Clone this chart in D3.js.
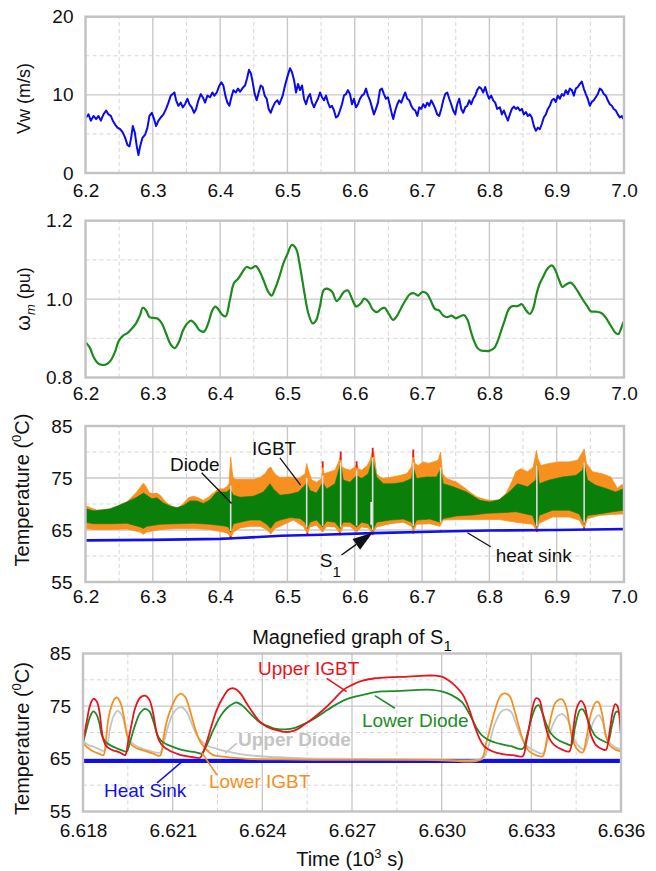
<!DOCTYPE html>
<html><head><meta charset="utf-8">
<script src="https://cdn.jsdelivr.net/npm/d3@7"></script>
<style>body{margin:0;background:#fff}</style>
</head><body>
<script>
// ---------------- DATA ----------------
// Panel 1: wind speed Vw (m/s) vs time (10^3 s)
const windSpeed = [
[6.2010,7.1],[6.2045,7.5],[6.2079,6.7],[6.2119,7.3],[6.2158,6.9],[6.2193,7.3],[6.2228,6.7],[6.2267,7.5],[6.2307,8.0],[6.2341,7.5],
[6.2376,7.3],[6.2406,6.7],[6.2440,6.2],[6.2475,5.8],[6.2515,5.6],[6.2554,5.2],[6.2589,4.5],[6.2623,3.6],[6.2653,3.4],[6.2678,4.5],
[6.2703,6.0],[6.2732,5.2],[6.2762,3.4],[6.2787,2.3],[6.2811,3.4],[6.2846,4.5],[6.2886,4.9],[6.2920,5.8],[6.2950,7.3],[6.2985,7.7],
[6.3019,6.9],[6.3049,6.0],[6.3084,6.7],[6.3118,7.1],[6.3158,7.5],[6.3197,8.2],[6.3232,9.0],[6.3267,9.9],[6.3296,10.1],[6.3321,10.3],
[6.3346,9.3],[6.3380,8.6],[6.3415,9.0],[6.3445,8.4],[6.3479,8.8],[6.3514,9.5],[6.3544,8.8],[6.3578,8.4],[6.3613,7.7],[6.3643,8.2],
[6.3677,9.3],[6.3712,10.1],[6.3742,9.7],[6.3776,9.0],[6.3811,9.9],[6.3851,9.7],[6.3885,10.3],[6.3915,9.9],[6.3950,10.3],[6.3989,11.2],
[6.4019,11.6],[6.4048,11.2],[6.4078,9.9],[6.4108,9.0],[6.4138,8.6],[6.4167,9.7],[6.4197,10.6],[6.4232,10.3],[6.4266,10.8],[6.4296,10.4],
[6.4336,10.9],[6.4370,11.2],[6.4400,12.1],[6.4429,13.2],[6.4459,12.7],[6.4484,11.6],[6.4514,10.1],[6.4543,9.3],[6.4573,10.3],[6.4603,11.2],
[6.4632,11.0],[6.4662,9.9],[6.4692,9.5],[6.4721,8.2],[6.4751,7.7],[6.4781,8.4],[6.4815,9.0],[6.4850,9.3],[6.4880,8.8],[6.4930,9.9],
[6.4964,11.2],[6.4999,12.3],[6.5038,13.4],[6.5068,12.9],[6.5098,11.9],[6.5128,10.3],[6.5157,11.4],[6.5187,10.6],[6.5217,11.2],[6.5246,9.5],
[6.5276,8.8],[6.5306,9.7],[6.5335,10.1],[6.5365,9.0],[6.5395,8.4],[6.5424,9.0],[6.5454,9.5],[6.5484,10.3],[6.5513,9.7],[6.5543,9.3],
[6.5573,9.9],[6.5603,9.0],[6.5632,8.4],[6.5662,8.6],[6.5692,8.0],[6.5721,7.1],[6.5751,7.3],[6.5781,8.0],[6.5810,8.8],[6.5840,9.9],
[6.5870,10.1],[6.5899,10.6],[6.5929,10.1],[6.5959,8.8],[6.5988,9.5],[6.6018,8.4],[6.6048,8.8],[6.6078,9.5],[6.6107,9.9],[6.6137,10.1],
[6.6167,10.8],[6.6196,9.9],[6.6226,9.3],[6.6256,8.4],[6.6285,7.5],[6.6315,8.2],[6.6345,9.0],[6.6374,10.6],[6.6404,10.8],[6.6434,10.1],
[6.6463,9.5],[6.6493,9.7],[6.6523,8.6],[6.6553,7.5],[6.6572,6.9],[6.6602,8.0],[6.6632,8.8],[6.6661,9.3],[6.6691,9.0],[6.6721,9.7],
[6.6750,10.3],[6.6780,9.5],[6.6810,9.3],[6.6840,8.6],[6.6869,8.2],[6.6899,8.0],[6.6929,7.3],[6.6958,8.4],[6.6988,8.2],[6.7018,8.8],
[6.7047,8.4],[6.7077,9.0],[6.7107,8.6],[6.7136,9.3],[6.7166,8.8],[6.7196,8.2],[6.7225,7.5],[6.7255,7.3],[6.7285,8.2],[6.7315,9.3],
[6.7344,10.1],[6.7374,10.3],[6.7404,9.5],[6.7433,8.8],[6.7463,8.0],[6.7493,7.5],[6.7522,8.8],[6.7552,9.5],[6.7582,8.2],[6.7611,7.7],
[6.7641,8.4],[6.7671,8.6],[6.7701,9.3],[6.7730,8.8],[6.7760,9.5],[6.7790,9.9],[6.7819,10.6],[6.7849,11.0],[6.7879,10.8],[6.7908,10.3],
[6.7938,11.0],[6.7968,10.1],[6.7997,9.5],[6.8027,9.9],[6.8057,9.3],[6.8086,9.0],[6.8116,8.2],[6.8156,8.4],[6.8186,7.5],[6.8216,8.0],
[6.8245,7.3],[6.8275,6.7],[6.8305,7.5],[6.8334,8.2],[6.8364,8.5],[6.8394,8.2],[6.8423,8.4],[6.8453,8.0],[6.8483,8.2],[6.8512,7.5],
[6.8542,7.8],[6.8572,7.3],[6.8601,7.5],[6.8631,7.1],[6.8661,6.0],[6.8691,5.4],[6.8720,5.8],[6.8750,5.6],[6.8780,6.3],[6.8809,7.1],
[6.8839,7.5],[6.8869,8.2],[6.8898,8.6],[6.8928,9.3],[6.8958,9.5],[6.8987,9.1],[6.9017,9.9],[6.9047,9.5],[6.9076,10.1],[6.9106,9.9],
[6.9136,10.6],[6.9166,10.1],[6.9195,10.8],[6.9225,10.6],[6.9255,9.9],[6.9284,10.8],[6.9314,11.0],[6.9344,11.4],[6.9373,11.7],[6.9403,10.8],
[6.9433,10.1],[6.9462,9.5],[6.9492,8.6],[6.9522,9.1],[6.9551,9.3],[6.9581,9.7],[6.9611,10.1],[6.9640,10.8],[6.9670,10.6],[6.9700,10.1],
[6.9730,9.9],[6.9759,9.3],[6.9789,8.8],[6.9819,8.6],[6.9848,8.2],[6.9878,8.0],[6.9908,7.5],[6.9937,7.1],[6.9967,7.3],[6.9990,6.9]
];

// Panel 2: rotor speed omega_m (pu)
const rotorSpeed = [
[6.2000,0.890],[6.2062,0.877],[6.2124,0.851],[6.2186,0.836],[6.2249,0.832],[6.2311,0.834],[6.2373,0.843],[6.2435,0.864],[6.2497,0.894],[6.2559,0.907],
[6.2622,0.913],[6.2684,0.924],[6.2746,0.937],[6.2808,0.958],[6.2851,0.978],[6.2901,0.971],[6.2951,0.954],[6.3013,0.952],[6.3075,0.950],[6.3137,0.937],
[6.3200,0.911],[6.3262,0.885],[6.3324,0.875],[6.3386,0.890],[6.3448,0.920],[6.3510,0.938],[6.3572,0.945],[6.3635,0.935],[6.3697,0.920],[6.3759,0.917],
[6.3821,0.937],[6.3883,0.971],[6.3927,0.981],[6.3970,0.975],[6.4032,0.960],[6.4082,0.956],[6.4144,0.997],[6.4206,1.041],[6.4268,1.052],[6.4331,1.069],
[6.4393,1.082],[6.4455,1.078],[6.4530,1.084],[6.4592,1.069],[6.4654,1.044],[6.4716,1.018],[6.4766,1.009],[6.4815,1.026],[6.4878,1.056],[6.4940,1.091],
[6.5002,1.116],[6.5064,1.138],[6.5126,1.129],[6.5188,1.082],[6.5250,1.018],[6.5313,0.962],[6.5375,0.938],[6.5424,0.945],[6.5480,0.979],[6.5543,1.024],
[6.5605,1.026],[6.5667,1.018],[6.5729,0.995],[6.5772,1.001],[6.5835,1.018],[6.5897,1.022],[6.5959,1.001],[6.6021,0.981],[6.6083,0.988],[6.6145,1.001],
[6.6208,0.992],[6.6270,0.973],[6.6332,0.967],[6.6394,0.975],[6.6444,0.978],[6.6506,0.962],[6.6568,0.947],[6.6630,0.958],[6.6692,0.978],[6.6754,0.997],
[6.6817,1.012],[6.6879,1.015],[6.6941,1.009],[6.7003,1.018],[6.7065,1.015],[6.7127,0.997],[6.7190,0.975],[6.7252,0.971],[6.7314,0.958],[6.7376,0.954],
[6.7438,0.958],[6.7503,0.951],[6.7577,0.957],[6.7627,0.959],[6.7676,0.947],[6.7726,0.917],[6.7775,0.892],[6.7825,0.875],[6.7874,0.869],[6.7924,0.868],
[6.7998,0.868],[6.8072,0.875],[6.8122,0.892],[6.8171,0.917],[6.8220,0.942],[6.8295,0.976],[6.8344,0.982],[6.8418,0.982],[6.8483,0.987],[6.8542,0.972],
[6.8601,0.962],[6.8651,0.976],[6.8691,1.006],[6.8740,1.036],[6.8799,1.057],[6.8864,1.078],[6.8928,1.086],[6.8977,1.075],[6.9037,1.048],[6.9086,1.031],
[6.9146,1.038],[6.9210,1.042],[6.9274,1.030],[6.9334,1.014],[6.9393,0.997],[6.9458,0.981],[6.9507,0.969],[6.9581,0.968],[6.9655,0.965],[6.9720,0.955],
[6.9769,0.942],[6.9829,0.925],[6.9878,0.913],[6.9918,0.911],[6.9957,0.925],[6.9990,0.942]
];

// Panel 3: temperature envelopes (deg C)
const igbtUpper = [
[6.2000,69.7],[6.2069,69.3],[6.2168,68.8],[6.2366,68.9],[6.2490,69.6],[6.2614,70.4],[6.2762,72.3],[6.2836,73.6],[6.2861,74.0],[6.2901,73.3],
[6.2950,72.1],[6.3009,72.0],[6.3059,72.1],[6.3108,71.7],[6.3207,70.2],[6.3306,69.4],[6.3380,69.3],[6.3455,70.1],[6.3529,71.2],[6.3603,71.5],
[6.3677,71.2],[6.3752,70.7],[6.3826,71.3],[6.3900,72.1],[6.3974,72.9],[6.4048,72.9],[6.4098,73.3],[6.4133,73.9],[6.4157,79.0],[6.4177,76.5],
[6.4197,74.9],[6.4246,74.7],[6.4345,74.7],[6.4494,74.7],[6.4593,75.1],[6.4667,75.8],[6.4716,76.8],[6.4751,77.1],[6.4791,76.2],[6.4840,75.5],
[6.4890,75.1],[6.5038,75.2],[6.5162,74.9],[6.5261,75.8],[6.5286,77.8],[6.5311,76.5],[6.5360,74.6],[6.5434,74.2],[6.5509,74.9],[6.5523,77.8],
[6.5543,75.8],[6.5632,76.2],[6.5706,76.5],[6.5771,78.4],[6.5791,79.6],[6.5810,77.1],[6.5855,76.8],[6.5929,76.5],[6.6003,77.1],[6.6028,77.6],
[6.6053,76.8],[6.6102,76.5],[6.6186,77.4],[6.6226,78.4],[6.6266,80.2],[6.6285,80.0],[6.6325,75.8],[6.6374,75.2],[6.6424,74.9],[6.6523,75.1],
[6.6597,75.3],[6.6671,75.5],[6.6770,75.8],[6.6844,77.1],[6.6869,79.8],[6.6894,77.8],[6.6943,77.4],[6.7018,78.1],[6.7092,77.8],[6.7166,78.1],
[6.7240,78.4],[6.7275,80.0],[6.7305,75.8],[6.7364,74.9],[6.7512,74.2],[6.7611,73.3],[6.7710,72.3],[6.7809,71.4],[6.7948,70.8],[6.8047,70.7],
[6.8146,70.8],[6.8245,72.0],[6.8319,73.9],[6.8394,76.2],[6.8468,76.8],[6.8567,76.2],[6.8651,77.1],[6.8700,80.3],[6.8720,78.7],[6.8765,77.4],
[6.8889,77.8],[6.9037,78.1],[6.9185,78.1],[6.9309,78.4],[6.9373,79.7],[6.9408,80.6],[6.9443,77.8],[6.9532,76.2],[6.9680,75.8],[6.9804,75.2],
[6.9903,73.0],[6.9952,73.6],[7.0000,73.8]
];
const igbtLower = [
[6.2000,65.3],[6.2119,65.1],[6.2366,65.1],[6.2614,65.2],[6.2811,64.6],[6.2861,64.2],[6.2910,64.6],[6.3108,65.1],[6.3356,65.3],[6.3603,65.3],
[6.3851,65.1],[6.4048,64.6],[6.4123,64.3],[6.4157,63.3],[6.4197,64.6],[6.4296,65.4],[6.4444,65.7],[6.4593,65.7],[6.4692,65.1],[6.4751,64.2],
[6.4815,65.3],[6.4890,65.7],[6.5088,66.9],[6.5236,65.7],[6.5296,64.3],[6.5335,65.6],[6.5434,65.9],[6.5523,64.6],[6.5583,65.7],[6.5706,65.6],
[6.5781,64.3],[6.5830,65.7],[6.5929,65.7],[6.6028,64.6],[6.6102,65.6],[6.6201,65.4],[6.6266,64.3],[6.6325,65.6],[6.6523,66.2],[6.6721,66.5],
[6.6844,65.7],[6.6869,64.6],[6.6919,66.1],[6.7117,66.2],[6.7265,65.7],[6.7315,66.9],[6.7512,67.0],[6.7760,67.0],[6.7958,67.0],[6.8156,67.0],
[6.8394,66.5],[6.8641,66.1],[6.8705,64.9],[6.8740,66.3],[6.8938,67.5],[6.9185,67.5],[6.9334,66.9],[6.9408,65.3],[6.9458,67.2],[6.9631,67.8],
[6.9829,68.0],[7.0000,68.1]
];
const diodeUpper = [
[6.2000,69.1],[6.2119,68.7],[6.2267,68.9],[6.2366,69.1],[6.2490,69.7],[6.2614,70.4],[6.2762,71.3],[6.2861,72.1],[6.2910,71.7],[6.2985,71.0],
[6.3059,71.2],[6.3158,70.2],[6.3257,69.6],[6.3356,69.3],[6.3455,69.7],[6.3554,70.6],[6.3653,70.6],[6.3752,70.1],[6.3851,70.8],[6.3950,72.3],
[6.4024,72.3],[6.4098,72.3],[6.4147,72.9],[6.4197,71.7],[6.4296,71.3],[6.4494,71.5],[6.4642,72.3],[6.4741,73.9],[6.4791,72.9],[6.4890,71.7],
[6.5038,71.9],[6.5162,72.3],[6.5261,73.6],[6.5286,74.2],[6.5335,72.6],[6.5434,72.1],[6.5523,74.2],[6.5583,72.9],[6.5706,73.9],[6.5791,77.8],
[6.5830,74.6],[6.5929,74.2],[6.6028,75.5],[6.6102,74.9],[6.6201,75.8],[6.6266,78.7],[6.6325,75.2],[6.6424,73.9],[6.6572,73.9],[6.6721,74.2],
[6.6844,74.9],[6.6869,77.1],[6.6919,74.9],[6.7067,75.2],[6.7216,75.2],[6.7275,76.8],[6.7315,73.9],[6.7463,73.3],[6.7661,72.3],[6.7859,70.7],
[6.8007,70.4],[6.8146,70.8],[6.8295,72.3],[6.8418,73.9],[6.8567,73.3],[6.8691,74.6],[6.8715,77.4],[6.8740,73.9],[6.8889,74.6],[6.9086,75.2],
[6.9284,75.5],[6.9383,76.5],[6.9408,77.8],[6.9458,74.6],[6.9581,73.6],[6.9730,73.0],[6.9878,72.3],[7.0000,73.0]
];
const diodeLower = [
[6.2000,66.5],[6.2119,66.2],[6.2366,66.2],[6.2614,66.3],[6.2811,65.6],[6.2861,65.3],[6.2910,65.7],[6.3108,66.1],[6.3356,66.2],[6.3603,66.3],
[6.3851,66.1],[6.4048,65.8],[6.4123,65.6],[6.4157,64.6],[6.4197,66.2],[6.4296,66.5],[6.4444,66.9],[6.4593,66.9],[6.4692,66.1],[6.4751,65.3],
[6.4815,66.5],[6.4890,66.9],[6.5038,67.4],[6.5187,67.2],[6.5261,66.5],[6.5296,65.3],[6.5335,66.5],[6.5434,66.9],[6.5523,65.6],[6.5583,66.7],
[6.5706,66.5],[6.5781,65.3],[6.5830,66.5],[6.5929,66.5],[6.6028,65.6],[6.6102,66.5],[6.6201,66.2],[6.6266,64.9],[6.6325,66.5],[6.6523,66.9],
[6.6721,67.1],[6.6844,66.5],[6.6869,65.6],[6.6919,66.9],[6.7117,67.1],[6.7265,66.5],[6.7315,67.2],[6.7512,67.7],[6.7760,67.9],[6.7958,68.2],
[6.8156,68.3],[6.8394,68.5],[6.8641,67.8],[6.8705,65.5],[6.8740,67.8],[6.8938,68.8],[6.9185,68.8],[6.9334,68.1],[6.9408,66.2],[6.9458,67.8],
[6.9631,68.1],[6.9829,68.5],[7.0000,68.8]
];
const heatSink = [
[6.200,63.0],[6.300,63.1],[6.400,63.3],[6.420,63.4],[6.490,63.9],[6.550,64.1],[6.627,64.4],[6.727,64.7],[6.800,64.9],[6.900,65.0],[7.000,65.2]
];
// switching spikes: [time, low, high]
const spikeLines = [
[6.4157,64.8,73.5],[6.5286,65.5,75.0],[6.5523,65.8,75.5],[6.5791,65.5,78.0],[6.6028,65.8,76.5],
[6.6266,65.0,79.0],[6.6869,65.8,78.0],[6.7275,66.5,77.0],[6.8705,65.7,77.4],[6.9408,66.4,78.0]
];
const redTips = [
[6.5523,77.0,78.2],[6.5791,78.5,80.1],[6.6028,77.0,78.2],[6.6266,79.0,80.8],[6.6869,79.0,80.5],
[6.4157,63.2,63.8],[6.5296,64.0,64.5],[6.5781,64.0,64.5],[6.6266,64.0,64.4],[6.6869,64.3,64.8],[6.7275,64.6,65.0],[6.8705,64.6,65.2],[6.9408,65.0,65.5]
];
const s1Gap = [6.6232, 6.6258, 66.0, 70.4];

// Panel 4: magnified S1 (offsets in seconds from 6.618 x 10^3 s)
const upperIGBT = [
[0.014,68.6],[0.126,72.1],[0.238,75.2],[0.349,76.4],[0.461,75.9],[0.550,74.0],[0.617,70.8],[0.684,68.6],[0.795,67.3],[0.962,66.7],
[1.130,66.4],[1.297,66.0],[1.408,65.7],[1.520,68.6],[1.631,71.7],[1.743,74.6],[1.910,76.6],[2.078,77.0],[2.222,76.2],[2.334,74.0],
[2.445,70.5],[2.535,68.6],[2.691,67.3],[2.914,66.5],[3.137,66.0],[3.360,65.6],[3.694,65.3],[3.917,65.2],[4.029,66.4],[4.140,68.2],
[4.308,71.4],[4.475,74.3],[4.698,76.8],[4.866,78.1],[5.011,78.4],[5.144,78.1],[5.311,77.1],[5.479,75.5],[5.701,73.6],[5.924,72.0],
[6.147,71.1],[6.370,70.6],[6.593,70.3],[6.761,70.1],[7.095,70.4],[7.430,71.6],[7.764,73.0],[8.099,74.6],[8.433,76.5],[8.712,78.1],
[8.991,79.0],[9.325,79.8],[9.771,80.3],[10.329,80.5],[10.886,80.6],[11.444,80.8],[11.778,80.8],[12.001,80.6],[12.224,79.9],[12.447,78.9],
[12.704,77.2],[12.927,74.3],[13.094,71.4],[13.262,68.9],[13.429,67.3],[13.708,66.4],[14.042,65.9],[14.377,65.7],[14.711,65.5],[14.823,68.0],
[14.934,71.1],[15.046,74.9],[15.157,76.5],[15.269,76.2],[15.380,73.6],[15.492,70.8],[15.603,68.9],[15.770,67.6],[16.049,66.7],[16.272,66.4],
[16.384,69.8],[16.518,74.6],[16.663,76.0],[16.774,75.2],[16.886,72.4],[16.997,69.5],[17.164,67.6],[17.387,66.8],[17.499,66.7],[17.610,69.8],
[17.722,73.9],[17.811,75.4],[17.889,74.9],[17.990,69.8]
];
const lowerDiode = [
[0.014,68.3],[0.126,70.8],[0.238,73.0],[0.349,74.0],[0.461,73.3],[0.550,71.7],[0.628,69.5],[0.739,68.3],[0.907,67.6],[1.130,67.0],
[1.353,66.5],[1.464,66.4],[1.576,68.3],[1.743,71.4],[1.910,73.7],[2.078,74.5],[2.222,74.0],[2.356,72.1],[2.491,69.5],[2.635,68.3],
[2.858,67.6],[3.137,67.0],[3.471,66.5],[3.806,66.2],[3.973,66.0],[4.140,67.6],[4.363,70.5],[4.587,73.0],[4.810,74.6],[5.033,75.5],
[5.144,75.7],[5.311,75.2],[5.479,74.3],[5.701,73.0],[5.924,71.9],[6.147,71.3],[6.370,70.8],[6.593,70.6],[6.761,70.6],[7.095,70.9],
[7.430,71.7],[7.764,72.7],[8.099,74.0],[8.433,75.2],[8.768,76.2],[9.102,76.8],[9.548,77.4],[9.994,77.8],[10.663,77.9],[11.221,78.1],
[11.667,78.1],[12.001,77.8],[12.336,77.1],[12.671,75.8],[12.949,73.3],[13.172,70.8],[13.339,69.5],[13.562,68.6],[13.786,68.1],[13.986,67.8],
[14.321,67.4],[14.711,66.9],[14.845,69.2],[14.990,72.4],[15.157,74.9],[15.246,75.2],[15.358,73.9],[15.492,71.7],[15.659,69.8],[15.882,68.6],
[16.161,67.9],[16.328,67.6],[16.473,71.4],[16.629,74.3],[16.718,74.4],[16.852,73.0],[16.997,70.8],[17.164,69.2],[17.443,68.3],[17.555,68.1],
[17.700,71.4],[17.833,73.9],[17.911,73.9],[17.990,72.4]
];
const lowerIGBT = [
[0.014,67.9],[0.182,67.0],[0.349,66.4],[0.572,65.9],[0.684,65.7],[0.773,68.9],[0.851,72.7],[0.962,75.2],[1.074,76.5],[1.152,76.6],
[1.263,75.5],[1.375,72.7],[1.464,69.8],[1.576,67.9],[1.799,67.0],[2.078,66.5],[2.356,66.0],[2.579,65.6],[2.691,68.9],[2.802,72.1],
[2.970,74.9],[3.137,76.8],[3.271,77.4],[3.415,76.8],[3.527,75.2],[3.639,73.0],[3.806,69.8],[3.917,68.3],[4.051,67.3],[4.196,66.4],
[4.363,65.7],[4.698,65.4],[5.033,65.2],[5.479,65.0],[6.147,64.9],[6.593,64.9],[8.0,64.8],[10.0,64.8],[12.0,64.8],[13.317,64.9],
[13.485,67.9],[13.652,71.4],[13.819,74.9],[13.986,77.1],[14.154,77.4],[14.287,76.8],[14.432,74.3],[14.600,70.8],[14.767,67.9],[14.934,66.4],
[15.157,65.7],[15.380,65.5],[15.514,68.6],[15.659,73.0],[15.826,75.8],[16.027,76.3],[16.161,74.9],[16.272,71.7],[16.384,68.6],[16.551,66.7],
[16.718,66.2],[16.852,69.2],[16.997,73.6],[17.164,75.8],[17.254,75.7],[17.387,73.0],[17.499,69.2],[17.666,67.3],[17.833,66.7],[17.990,66.4]
];
const upperDiode = [
[0.014,68.3],[0.182,67.6],[0.349,67.3],[0.516,66.9],[0.684,66.5],[0.795,67.3],[0.907,70.8],[1.018,73.0],[1.152,74.1],[1.297,73.3],
[1.408,71.1],[1.520,68.9],[1.687,67.8],[1.910,67.1],[2.244,66.5],[2.579,66.2],[2.713,68.3],[2.858,71.4],[3.025,73.7],[3.193,74.7],
[3.304,74.8],[3.471,73.9],[3.639,71.7],[3.806,69.5],[3.973,68.3],[4.196,67.4],[4.475,66.9],[4.810,66.4],[5.256,65.9],[5.701,65.6],
[6.147,65.4],[6.593,65.3],[7.5,65.1],[9.0,65.0],[11.0,64.9],[13.317,64.9],[13.429,65.4],[13.596,67.9],[13.763,71.4],[13.986,73.9],
[14.154,74.4],[14.321,73.9],[14.488,71.7],[14.655,69.2],[14.878,67.3],[15.157,66.4],[15.380,66.0],[15.548,68.6],[15.715,71.4],[15.882,73.1],
[16.027,73.5],[16.217,72.4],[16.384,69.2],[16.607,67.3],[16.774,66.8],[16.941,69.8],[17.109,72.4],[17.254,73.3],[17.387,72.0],[17.555,68.6],
[17.778,67.3],[17.990,66.8]
];
const heatSinkS1 = [[0.0,64.6],[18.0,64.6]];
const s1Start = 6.618;

// tick labels
const xTicksLong = [6.2,6.3,6.4,6.5,6.6,6.7,6.8,6.9,7.0];
const xTicksS1 = [6.618,6.621,6.624,6.627,6.630,6.633,6.636];
const yTicksWind = [0,10,20];
const yTicksRotor = [0.8,1.0,1.2];
const yTicksTemp = [55,65,75,85];

// ---------------- DRAWING ----------------
const FONT = "'Liberation Sans', Arial, Helvetica, sans-serif";
const svg = d3.select("body").append("svg").attr("width",656).attr("height",871)
  .style("display","block").style("font-family",FONT);
const defs = svg.append("defs");
let clipId = 0;

function panel(o){
  const x = d3.scaleLinear().domain(o.xd).range(o.xr);
  const y = d3.scaleLinear().domain(o.yd).range(o.yr);
  const g = svg.append("g");
  const id = "clip" + (clipId++);
  defs.append("clipPath").attr("id",id).append("rect")
    .attr("x",o.xr[0]).attr("y",o.yr[1]).attr("width",o.xr[1]-o.xr[0]).attr("height",o.yr[0]-o.yr[1]);
  const xt = o.xTicks;
  const xMinor = d3.pairs(xt).map(p=>(p[0]+p[1])/2);
  const yt = o.yTicks;
  const yMinor = d3.pairs(yt).map(p=>(p[0]+p[1])/2);
  const grid = g.append("g");
  grid.selectAll(".xm").data(xMinor).join("line")
    .attr("x1",d=>x(d)).attr("x2",d=>x(d)).attr("y1",o.yr[0]).attr("y2",o.yr[1])
    .attr("stroke","#d6d6d6").attr("stroke-width",1).attr("stroke-dasharray","4,3");
  grid.selectAll(".ym").data(yMinor).join("line")
    .attr("y1",d=>y(d)).attr("y2",d=>y(d)).attr("x1",o.xr[0]).attr("x2",o.xr[1])
    .attr("stroke","#d6d6d6").attr("stroke-width",1).attr("stroke-dasharray","4,3");
  grid.selectAll(".xM").data(xt.slice(1,-1)).join("line")
    .attr("x1",d=>x(d)).attr("x2",d=>x(d)).attr("y1",o.yr[0]).attr("y2",o.yr[1])
    .attr("stroke","#c9c9c9").attr("stroke-width",1.4);
  grid.selectAll(".yM").data(yt.slice(1,-1)).join("line")
    .attr("y1",d=>y(d)).attr("y2",d=>y(d)).attr("x1",o.xr[0]).attr("x2",o.xr[1])
    .attr("stroke","#c9c9c9").attr("stroke-width",1.4);
  const data = g.append("g").attr("clip-path",`url(#${id})`);
  const fs = 19;
  const ax = g.append("g").attr("transform",`translate(0,${o.yr[0]})`)
    .call(d3.axisBottom(x).tickValues(xt).tickFormat(d3.format(o.xf)).tickSize(0)
      .tickPadding(o.xBase - o.yr[0] - 0.71*fs));
  ax.select(".domain").remove();
  ax.selectAll("text").attr("font-size",fs).attr("font-family",FONT).attr("fill","#111");
  const ay = g.append("g").attr("transform",`translate(${o.xr[0]},0)`)
    .call(d3.axisLeft(y).tickValues(yt).tickFormat(d3.format(o.yf)).tickSize(0).tickPadding(o.yPad));
  ay.select(".domain").remove();
  ay.selectAll("text").attr("font-size",fs).attr("font-family",FONT).attr("fill","#111");
  const frame = ()=> g.append("rect").attr("x",o.xr[0]).attr("y",o.yr[1])
    .attr("width",o.xr[1]-o.xr[0]).attr("height",o.yr[0]-o.yr[1])
    .attr("fill","none").attr("stroke","#c2c2c2").attr("stroke-width",2.4);
  return {x,y,g,data,frame};
}

function yTitle(g, cx, cy, size, build){
  const t = g.append("text").attr("transform",`translate(${cx},${cy}) rotate(-90)`)
    .attr("text-anchor","middle").attr("font-size",size).attr("fill","#111");
  build(t);
  return t;
}
function tempTitle(t){
  t.append("tspan").text("Temperature (");
  t.append("tspan").attr("font-size",13).attr("dy",-8).text("0");
  t.append("tspan").attr("dy",8).text("C)");
}

// ---- Panel 1 ----
const p1 = panel({xd:[6.2,7.0], xr:[85.5,624], yd:[0,20], yr:[173,16.7],
  xTicks:xTicksLong, yTicks:yTicksWind, xf:".1f", yf:"d", xBase:197, yPad:12});
p1.data.append("path").datum(windSpeed)
  .attr("d", d3.line().x(d=>p1.x(d[0])).y(d=>p1.y(d[1])))
  .attr("fill","none").attr("stroke","#0a0aee").attr("stroke-width",2).attr("stroke-linejoin","round");
p1.frame();
yTitle(p1.g, 30, 98.5, 18, t=>t.text("Vw (m/s)"));

// ---- Panel 2 ----
const p2 = panel({xd:[6.2,7.0], xr:[85.5,624], yd:[0.8,1.2], yr:[377.5,220.7],
  xTicks:xTicksLong, yTicks:yTicksRotor, xf:".1f", yf:".1f", xBase:400, yPad:13});
p2.data.append("path").datum(rotorSpeed)
  .attr("d", d3.line().curve(d3.curveCatmullRom).x(d=>p2.x(d[0])).y(d=>p2.y(d[1])))
  .attr("fill","none").attr("stroke","#1d8a1d").attr("stroke-width",2.2);
p2.frame();
yTitle(p2.g, 30, 299, 18, t=>{
  t.append("tspan").attr("font-size",20).text("ω");
  t.append("tspan").attr("font-size",13).attr("font-style","italic").attr("dy",5).text("m");
  t.append("tspan").attr("dy",-5).text(" (pu)");
});

// ---- Panel 3 ----
const p3 = panel({xd:[6.2,7.0], xr:[85.5,624], yd:[55,85], yr:[582,426],
  xTicks:xTicksLong, yTicks:yTicksTemp, xf:".1f", yf:"d", xBase:603, yPad:13});
const band = (top,bot,sc)=> d3.line().x(d=>sc.x(d[0])).y(d=>sc.y(d[1]))(top.concat(bot.slice().reverse())) + "Z";
p3.data.append("path").attr("d", band(igbtUpper, igbtLower, p3)).attr("fill","#f7901e").attr("stroke","#f7901e").attr("stroke-width",0.8);
p3.data.append("path").attr("d", band(diodeUpper, diodeLower, p3)).attr("fill","#0a800a").attr("stroke","#0a800a").attr("stroke-width",0.6);
p3.data.append("rect").attr("x",p3.x(s1Gap[0])).attr("width",p3.x(s1Gap[1])-p3.x(s1Gap[0]))
  .attr("y",p3.y(s1Gap[3])).attr("height",p3.y(s1Gap[2])-p3.y(s1Gap[3])).attr("fill","#f4f4f4");
p3.data.selectAll(".spk").data(spikeLines).join("line")
  .attr("x1",d=>p3.x(d[0])).attr("x2",d=>p3.x(d[0])).attr("y1",d=>p3.y(d[1])).attr("y2",d=>p3.y(d[2]))
  .attr("stroke","#dcdcdc").attr("stroke-width",1.6);
p3.data.selectAll(".red").data(redTips).join("line")
  .attr("x1",d=>p3.x(d[0])).attr("x2",d=>p3.x(d[0])).attr("y1",d=>p3.y(d[1])).attr("y2",d=>p3.y(d[2]))
  .attr("stroke","#e8141c").attr("stroke-width",1.8);
p3.data.append("path").datum(heatSink)
  .attr("d", d3.line().x(d=>p3.x(d[0])).y(d=>p3.y(d[1])))
  .attr("fill","none").attr("stroke","#1010ee").attr("stroke-width",2.6);
p3.frame();
yTitle(p3.g, 29, 490, 20, tempTitle);
const ann3 = p3.g.append("g").attr("font-size",19).attr("fill","#111");
const seg = (g,sc,a,b,col,w)=> g.append("line").attr("x1",sc.x(a[0])).attr("y1",sc.y(a[1]))
  .attr("x2",sc.x(b[0])).attr("y2",sc.y(b[1])).attr("stroke",col).attr("stroke-width",w||1.3);
ann3.append("text").attr("x",p3.x(6.3254)).attr("y",p3.y(76.35)).text("Diode");
seg(ann3,p3,[6.3725,76.0],[6.4170,70.1],"#111");
ann3.append("text").attr("x",p3.x(6.4472)).attr("y",p3.y(79.42)).text("IGBT");
seg(ann3,p3,[6.4888,78.85],[6.5195,73.65],"#111");
const sT = ann3.append("text").attr("x",p3.x(6.5481)).attr("y",p3.y(57.88));
sT.append("tspan").text("S");
sT.append("tspan").attr("font-size",15).attr("dy",10).text("1");
{
  const ax0 = p3.x(6.5803), ay0 = p3.y(60.19), ax1 = p3.x(6.6264), ay1 = p3.y(64.48);
  const ang = Math.atan2(ay1-ay0, ax1-ax0), L = 20, Wd = 6.5;
  const bx = ax1 - L*Math.cos(ang), by = ay1 - L*Math.sin(ang);
  ann3.append("line").attr("x1",ax0).attr("y1",ay0).attr("x2",bx).attr("y2",by).attr("stroke","#111").attr("stroke-width",1.5);
  ann3.append("path").attr("d",`M${ax1},${ay1}L${bx - Wd*Math.sin(ang)},${by + Wd*Math.cos(ang)}L${bx + Wd*Math.sin(ang)},${by - Wd*Math.cos(ang)}Z`).attr("fill","#111");
}
ann3.append("text").attr("x",p3.x(6.8094)).attr("y",p3.y(58.85)).text("heat sink");
seg(ann3,p3,[6.8020,61.79],[6.7674,64.48],"#111");

// ---- Panel 4 ----
const p4 = panel({xd:[6.618,6.636], xr:[83,621], yd:[55,85], yr:[811.5,653.5],
  xTicks:xTicksS1, yTicks:yTicksTemp, xf:".3f", yf:"d", xBase:836.5, yPad:12});
const l4 = d3.line().curve(d3.curveCatmullRom).x(d=>p4.x(s1Start + d[0]/1000)).y(d=>p4.y(d[1]));
p4.data.append("path").datum(heatSinkS1).attr("d",l4).attr("fill","none").attr("stroke","#1010ee").attr("stroke-width",4);
p4.data.append("path").datum(upperDiode).attr("d",l4).attr("fill","none").attr("stroke","#c4c4c4").attr("stroke-width",1.8);
p4.data.append("path").datum(lowerIGBT).attr("d",l4).attr("fill","none").attr("stroke","#f5901e").attr("stroke-width",1.8);
p4.data.append("path").datum(lowerDiode).attr("d",l4).attr("fill","none").attr("stroke","#1e8c28").attr("stroke-width",1.8);
p4.data.append("path").datum(upperIGBT).attr("d",l4).attr("fill","none").attr("stroke","#e8141c").attr("stroke-width",1.8);
p4.frame();
yTitle(p4.g, 29, 738.5, 20, tempTitle);
const ann4 = p4.g.append("g").attr("font-size",19);
const P4 = {x:u=>p4.x(s1Start+u/1000), y:p4.y};
ann4.append("text").attr("x",P4.x(5.854)).attr("y",P4.y(80.92)).attr("fill","#e8141c").text("Upper IGBT");
seg(ann4,P4,[8.152,80.29],[8.821,77.75],"#e8141c",1.6);
ann4.append("text").attr("x",P4.x(9.333)).attr("y",P4.y(71.05)).attr("fill","#1e8c28").text("Lower Diode");
seg(ann4,P4,[10.437,74.6],[9.768,76.99],"#1e8c28",1.6);
ann4.append("text").attr("x",P4.x(5.185)).attr("y",P4.y(67.44)).attr("fill","#c4c4c4").attr("font-weight","bold").text("Upper Diode");
seg(ann4,P4,[5.142,67.95],[4.750,66.05],"#c4c4c4",1.6);
ann4.append("text").attr("x",P4.x(4.215)).attr("y",P4.y(59.46)).attr("fill","#f5901e").text("Lower IGBT");
seg(ann4,P4,[4.483,61.93],[3.981,66.11],"#f5901e",1.6);
ann4.append("text").attr("x",P4.x(0.702)).attr("y",P4.y(57.75)).attr("fill","#1010ee").text("Heat Sink");
seg(ann4,P4,[2.475,60.41],[3.379,64.78],"#1010ee",1.6);
const ttl = svg.append("text").attr("x",(p4.x.range()[0]+p4.x.range()[1])/2).attr("y",644)
  .attr("text-anchor","middle").attr("font-size",20).attr("fill","#111");
ttl.append("tspan").text("Magnefied graph of S");
ttl.append("tspan").attr("font-size",15).attr("dy",7).text("1");
const xTitle = svg.append("text").attr("x",350).attr("y",866).attr("text-anchor","middle").attr("font-size",20).attr("fill","#111");
xTitle.append("tspan").text("Time (10");
xTitle.append("tspan").attr("font-size",13).attr("dy",-8).text("3");
xTitle.append("tspan").attr("dy",8).text(" s)");
</script>
</body></html>
